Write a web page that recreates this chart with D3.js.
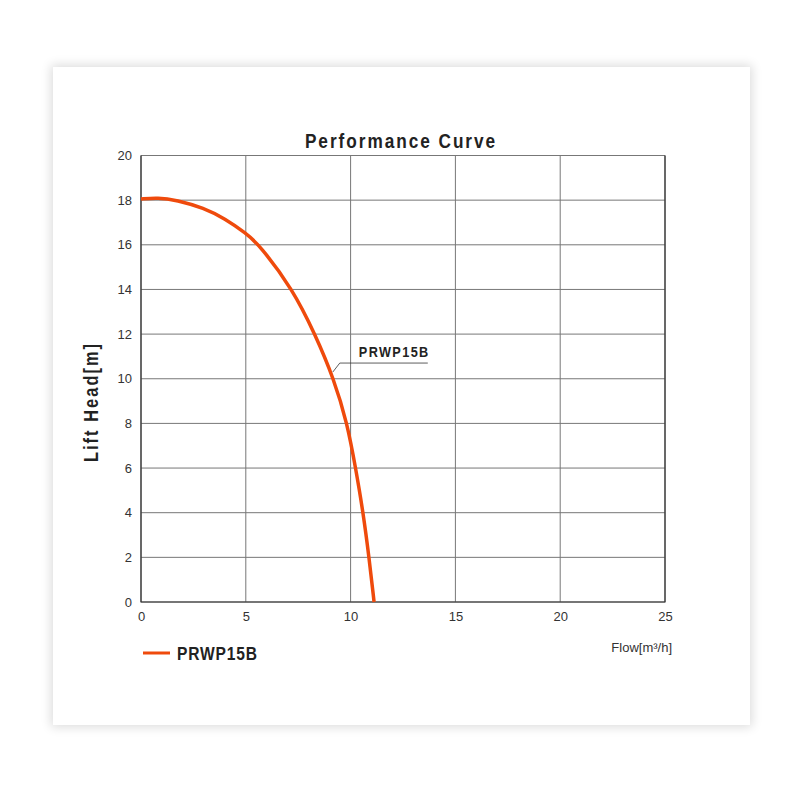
<!DOCTYPE html>
<html>
<head>
<meta charset="utf-8">
<script src="https://cdn.jsdelivr.net/npm/d3@7"></script>
<style>
  body { margin: 0; background: #fff; }
  #card { position: absolute; left: 53px; top: 67px; width: 697px; height: 658px;
          background: #fff; box-shadow: 0 0 10px 2px rgba(0,0,0,0.14); }
  #chart { position: absolute; left: 0; top: 0; }
  text { font-family: "Liberation Sans", Arial, sans-serif; }
</style>
</head>
<body>
<div id="card"></div>
<div id="chart"></div>
<script>
// pump curve
var flow = [0, 0.8, 1.7, 3, 4, 5, 5.65, 7.24, 8.3, 9.2, 9.84, 10.24, 10.6, 10.88, 11.12];
var head = [18.05, 18.12, 18.0, 17.65, 17.17, 16.52, 16, 14, 12, 10, 8, 6, 4, 2, 0];
var xTicks = [0, 5, 10, 15, 20, 25];
var yTicks = [0, 2, 4, 6, 8, 10, 12, 14, 16, 18, 20];
var seriesName = "PRWP15B";

function init(){
    var w = 800, h = 800;
    var left = 141, right = 665, top = 155.5, bottom = 602;
    var curveColor = "#ef4a0c";
    var squeeze = 0.82; // fake a condensed bold face

    var xScale = d3.scaleLinear().domain([0, 25]).range([left, right]);
    var yScale = d3.scaleLinear().domain([0, 20]).range([bottom, top]);

    var svg = d3.select("#chart").append("svg")
        .attr("width", w)
        .attr("height", h);

    // condensed bold text helper
    function boldText(x, y, size, spacing, anchor, str, rot){
        return svg.append("text")
            .attr("transform", "translate(" + x + "," + y + ")" + (rot ? " rotate(" + rot + ")" : "") + " scale(" + squeeze + ",1)")
            .attr("text-anchor", anchor)
            .attr("font-size", size)
            .attr("font-weight", "bold")
            .attr("letter-spacing", spacing)
            .attr("fill", "#222")
            .text(str);
    }

    // grid lines
    svg.selectAll(".vgrid")
        .data(xTicks)
        .enter().append("line")
        .attr("x1", function(d){ return xScale(d); })
        .attr("x2", function(d){ return xScale(d); })
        .attr("y1", top).attr("y2", bottom)
        .attr("stroke", "#777").attr("stroke-width", 1);

    svg.selectAll(".hgrid")
        .data(yTicks)
        .enter().append("line")
        .attr("x1", left).attr("x2", right)
        .attr("y1", function(d){ return yScale(d); })
        .attr("y2", function(d){ return yScale(d); })
        .attr("stroke", "#777").attr("stroke-width", 1);

    // frame (left, right, bottom darker)
    svg.append("path")
        .attr("d", "M" + left + "," + top + "V" + bottom + "H" + right + "V" + top)
        .attr("fill", "none").attr("stroke", "#333").attr("stroke-width", 1.2);

    // axes via d3
    var xAxis = svg.append("g")
        .attr("transform", "translate(0," + bottom + ")")
        .call(d3.axisBottom(xScale).tickValues(xTicks).tickSize(0).tickPadding(10));
    xAxis.select(".domain").remove();
    xAxis.selectAll("text").attr("font-size", 13).attr("fill", "#333")
        .style("font-family", "'Liberation Sans', Arial, sans-serif");

    var yAxis = svg.append("g")
        .attr("transform", "translate(" + left + ",0)")
        .call(d3.axisLeft(yScale).tickValues(yTicks).tickSize(0).tickPadding(9));
    yAxis.select(".domain").remove();
    yAxis.selectAll("text").attr("font-size", 13).attr("fill", "#333")
        .style("font-family", "'Liberation Sans', Arial, sans-serif");

    // curve
    var pts = flow.map(function(d, i){ return [d, head[i]]; });
    var line = d3.line()
        .x(function(d){ return xScale(d[0]); })
        .y(function(d){ return yScale(d[1]); })
        .curve(d3.curveBasis);

    svg.append("path")
        .datum(pts)
        .attr("d", line)
        .attr("fill", "none")
        .attr("stroke", curveColor)
        .attr("stroke-width", 3.5);

    // leader label on the curve
    var lx = xScale(9.15), ly = yScale(10.3);
    svg.append("path")
        .attr("d", "M" + lx + "," + ly + "L" + (lx + 7) + "," + (ly - 9) + "H" + (lx + 95))
        .attr("fill", "none").attr("stroke", "#333").attr("stroke-width", 0.8);
    boldText(lx + 26, ly - 15, 15.5, 1.7, "start", seriesName);

    // titles
    boldText(401, 148, 21, 2.4, "middle", "Performance Curve");
    boldText(98, 402, 20, 2.5, "middle", "Lift Head[m]", -90);

    svg.append("text")
        .attr("x", 672).attr("y", 652)
        .attr("text-anchor", "end")
        .attr("font-size", 13)
        .attr("fill", "#333")
        .text("Flow[m³/h]");

    // legend
    svg.append("line")
        .attr("x1", 143).attr("x2", 170)
        .attr("y1", 653).attr("y2", 653)
        .attr("stroke", curveColor).attr("stroke-width", 3);
    boldText(177, 660, 19, 1, "start", seriesName);
}
window.onload = init;
</script>
</body>
</html>
